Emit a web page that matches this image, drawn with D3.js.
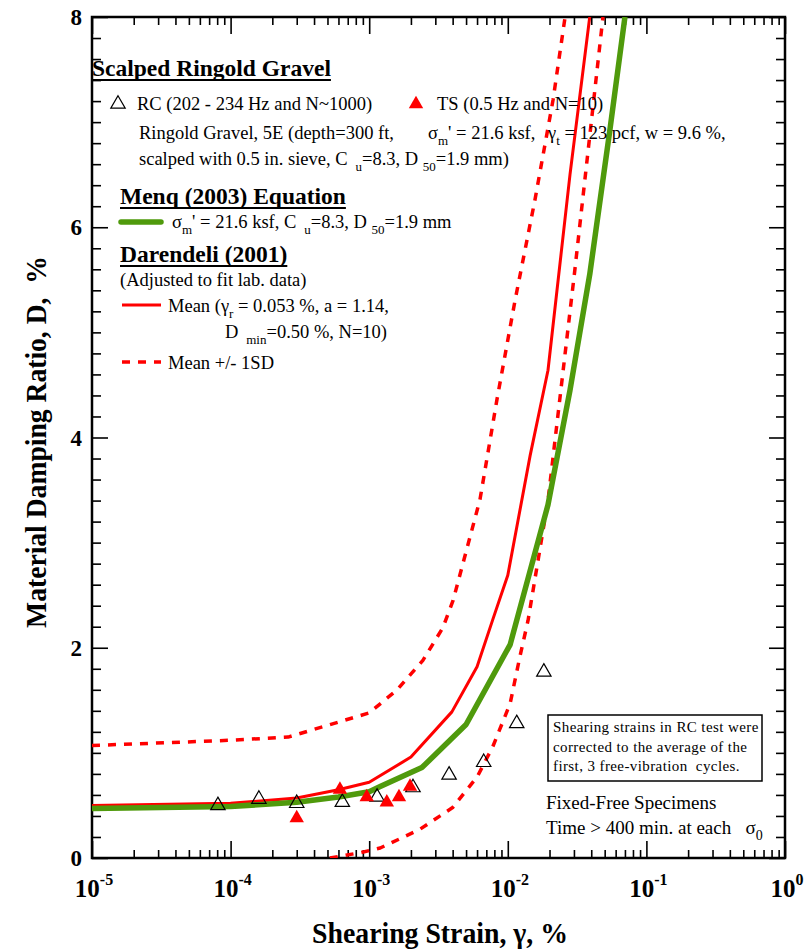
<!DOCTYPE html>
<html lang="en-US">
<head>
<meta charset="utf-8">
<title>Material Damping Ratio - Scalped Ringold Gravel</title>
<script src="https://cdn.jsdelivr.net/npm/d3@7"></script>
<style>
  body { margin: 0; background: #fff; }
  text { font-family: 'Liberation Serif', 'Times New Roman', serif; fill: #000; }
</style>
</head>
<body>
<svg id="chart"></svg>
<script>

    // ---- data ----
    const rcStrain = [8.1e-5, 1.6e-4, 3.0e-4, 6.4e-4, 1.14e-3, 2.07e-3, 3.77e-3, 6.7e-3, 1.16e-2, 1.82e-2];
    const rcDamping = [0.50, 0.56, 0.52, 0.53, 0.58, 0.67, 0.79, 0.91, 1.28, 1.77];

    const tsStrain = [3.0e-4, 6.15e-4, 9.6e-4, 1.34e-3, 1.64e-3, 1.97e-3];
    const tsDamping = [0.38, 0.65, 0.58, 0.53, 0.58, 0.68];

    const menqStrain = [1e-5, 1e-4, 3e-4, 6e-4, 1e-3, 1.2e-3, 2.4e-3, 5e-3, 1.04e-2, 1.95e-2, 2.81e-2, 3.9e-2, 5.46e-2, 7e-2];
    const menqDamping = [0.47, 0.49, 0.53, 0.58, 0.63, 0.68, 0.86, 1.27, 2.03, 3.36, 4.45, 5.55, 6.93, 8.0];

    const meanStrain = [1e-5, 1e-4, 3e-4, 6e-4, 1e-3, 2e-3, 3.95e-3, 6e-3, 7.8e-3, 1e-2, 1.45e-2, 1.95e-2, 2.81e-2, 3.9e-2];
    const meanDamping = [0.50, 0.52, 0.57, 0.65, 0.72, 0.96, 1.39, 1.82, 2.27, 2.69, 3.83, 4.64, 6.5, 8.0];

    const upperStrain = [1e-5, 1e-4, 2.6e-4, 1e-3, 1.59e-3, 2.44e-3, 3.4e-3, 4.03e-3, 6.3e-3, 8.35e-3, 1.13e-2, 1.57e-2, 2.12e-2, 2.59e-2];
    const upperDamping = [1.07, 1.12, 1.15, 1.38, 1.60, 1.88, 2.19, 2.45, 3.41, 4.36, 5.31, 6.26, 7.21, 8.0];

    const lowerStrain = [5.2e-4, 8.6e-4, 1.2e-3, 2.3e-3, 4.0e-3, 6.0e-3, 7.8e-3, 1.04e-2, 1.22e-2, 1.4e-2, 1.95e-2, 3.05e-2, 4.86e-2];
    const lowerDamping = [0.0, 0.05, 0.095, 0.27, 0.48, 0.77, 1.06, 1.47, 1.91, 2.26, 3.4, 5.6, 8.0];

    const xMajorTicks = [1e-5, 1e-4, 1e-3, 1e-2, 1e-1, 1];
    const xTickExponents = ['-5', '-4', '-3', '-2', '-1', '0'];
    const yMajorTicks = [0, 2, 4, 6, 8];

    const opt = {
        width: 811,
        height: 950,
        plot: { left: 92, top: 17, right: 785, bottom: 858 },
        red: '#ff0000',
        green: '#4f9a0c',
        legendSize: 18.5,
        headingSize: 23.5
    };

    const svg = d3.select('#chart')
        .attr('width', opt.width)
        .attr('height', opt.height);

    const xScale = d3.scaleLog()
        .domain([1e-5, 1])
        .range([opt.plot.left, opt.plot.right]);

    const yScale = d3.scaleLinear()
        .domain([0, 8])
        .range([opt.plot.bottom, opt.plot.top]);

    // minor ticks
    let xMinorTicks = [];
    for (let e = -5; e < 0; e++) {
        for (let m = 2; m <= 9; m++) xMinorTicks.push(m * Math.pow(10, e));
    }
    let yMinorTicks = d3.range(0, 8.001, 0.2).map(v => +v.toFixed(1)).filter(v => !yMajorTicks.includes(v));

    svg.append('defs').append('clipPath')
        .attr('id', 'plot-clip')
        .append('rect')
        .attr('x', opt.plot.left)
        .attr('y', opt.plot.top)
        .attr('width', opt.plot.right - opt.plot.left)
        .attr('height', opt.plot.bottom - opt.plot.top);

    // ---- axes (ticks inward on all four sides) ----
    function drawAxis(axisFn, scale, values, size, transform) {
        let g = svg.append('g')
            .attr('transform', transform)
            .call(axisFn(scale).tickValues(values).tickSize(size).tickFormat(''));
        g.select('.domain').remove();
        g.selectAll('line').attr('stroke', '#000').attr('stroke-width', 1.6);
        return g;
    }

    drawAxis(d3.axisBottom, xScale, xMajorTicks, -17, `translate(0,${opt.plot.bottom})`);
    drawAxis(d3.axisBottom, xScale, xMinorTicks, -8, `translate(0,${opt.plot.bottom})`);
    drawAxis(d3.axisTop, xScale, xMajorTicks, -17, `translate(0,${opt.plot.top})`);
    drawAxis(d3.axisTop, xScale, xMinorTicks, -8, `translate(0,${opt.plot.top})`);
    drawAxis(d3.axisLeft, yScale, yMajorTicks, -16, `translate(${opt.plot.left},0)`);
    drawAxis(d3.axisLeft, yScale, yMinorTicks, -9, `translate(${opt.plot.left},0)`);
    drawAxis(d3.axisRight, yScale, yMajorTicks, -16, `translate(${opt.plot.right},0)`);
    drawAxis(d3.axisRight, yScale, yMinorTicks, -9, `translate(${opt.plot.right},0)`);

    svg.append('rect')
        .attr('x', opt.plot.left)
        .attr('y', opt.plot.top)
        .attr('width', opt.plot.right - opt.plot.left)
        .attr('height', opt.plot.bottom - opt.plot.top)
        .attr('fill', 'none')
        .attr('stroke', '#000')
        .attr('stroke-width', 2.5);

    // tick labels
    let xLabels = svg.append('g')
        .selectAll('text')
        .data(xMajorTicks)
        .enter()
        .append('text')
        .attr('x', d => xScale(d) + 2)
        .attr('y', 897)
        .attr('text-anchor', 'middle')
        .style('font-size', '25px')
        .style('font-weight', 'bold');
    xLabels.append('tspan').text('10');
    xLabels.append('tspan')
        .attr('dy', -12)
        .style('font-size', '16px')
        .text((d, i) => xTickExponents[i]);

    svg.append('g')
        .selectAll('text')
        .data(yMajorTicks)
        .enter()
        .append('text')
        .attr('x', 82)
        .attr('y', d => yScale(d) + 8)
        .attr('text-anchor', 'end')
        .style('font-size', '23px')
        .style('font-weight', 'bold')
        .text(d => d);

    // axis titles, squeezed horizontally like the original typeface
    function title(text, x, y, rotate, size, targetWidth) {
        let t = svg.append('text')
            .attr('text-anchor', 'middle')
            .style('font-size', size + 'px')
            .style('font-weight', 'bold')
            .style('white-space', 'pre')
            .text(text);
        let k = targetWidth / t.node().getComputedTextLength();
        t.attr('transform', `translate(${x},${y}) rotate(${rotate}) scale(${k},1)`);
    }

    title('Shearing Strain, γ, %', 440, 943, 0, 30, 256);
    title('Material Damping Ratio, D,  %', 46, 442, -90, 29, 372);

    // ---- curves ----
    const line = d3.line()
        .x(d => xScale(d[0]))
        .y(d => yScale(d[1]));

    const curves = svg.append('g').attr('clip-path', 'url(#plot-clip)');

    function drawCurve(strain, damping, color, width, dash) {
        curves.append('path')
            .datum(strain.map((s, i) => [s, damping[i]]))
            .attr('d', line)
            .attr('fill', 'none')
            .attr('stroke', color)
            .attr('stroke-width', width)
            .attr('stroke-dasharray', dash || null)
            .attr('stroke-linejoin', 'round');
    }

    drawCurve(upperStrain, upperDamping, opt.red, 3.5, '8,8');
    drawCurve(lowerStrain, lowerDamping, opt.red, 3.5, '8,8');
    drawCurve(meanStrain, meanDamping, opt.red, 3);
    drawCurve(menqStrain, menqDamping, opt.green, 5.5);

    // ---- data points ----
    const tri = d3.symbol().type(d3.symbolTriangle).size(90);

    svg.append('g')
        .selectAll('path')
        .data(rcStrain.map((s, i) => [s, rcDamping[i]]))
        .enter()
        .append('path')
        .attr('d', tri)
        .attr('transform', d => `translate(${xScale(d[0])},${yScale(d[1])})`)
        .attr('fill', 'none')
        .attr('stroke', '#000')
        .attr('stroke-width', 1.2);

    svg.append('g')
        .selectAll('path')
        .data(tsStrain.map((s, i) => [s, tsDamping[i]]))
        .enter()
        .append('path')
        .attr('d', tri)
        .attr('transform', d => `translate(${xScale(d[0])},${yScale(d[1])})`)
        .attr('fill', opt.red);

    // ---- legend ----
    const legend = svg.append('g');

    function heading(x, y, text) {
        let t = legend.append('text')
            .attr('x', x)
            .attr('y', y)
            .style('font-size', opt.headingSize + 'px')
            .style('font-weight', 'bold')
            .text(text);
        let w = t.node().getComputedTextLength();
        legend.append('line')
            .attr('x1', x).attr('x2', x + w)
            .attr('y1', y + 4).attr('y2', y + 4)
            .attr('stroke', '#000')
            .attr('stroke-width', 2);
    }

    // parts: [text, 'sub'|'' ]
    function rich(x, y, parts, size) {
        size = size || opt.legendSize;
        let subSize = Math.round(size * 0.72);
        let t = legend.append('text')
            .attr('x', x)
            .attr('y', y)
            .style('font-size', size + 'px')
            .style('white-space', 'pre');
        let shifted = false;
        parts.forEach(p => {
            let s = t.append('tspan').text(p[0]);
            if (p[1] == 'sub') {
                s.style('font-size', subSize + 'px');
                if (!shifted) { s.attr('dy', 6); shifted = true; }
            } else if (shifted) {
                s.attr('dy', -6);
                shifted = false;
            }
        });
        return t;
    }

    heading(92, 76, 'Scalped Ringold Gravel');

    legend.append('path')
        .attr('d', tri)
        .attr('transform', 'translate(118,104)')
        .attr('fill', 'none')
        .attr('stroke', '#000')
        .attr('stroke-width', 1.2);
    rich(137, 110, [['RC (202 - 234 Hz and N~1000)', '']]);

    legend.append('path')
        .attr('d', tri)
        .attr('transform', 'translate(416,104)')
        .attr('fill', opt.red);
    rich(437, 110, [['TS (0.5 Hz and N=10)', '']]);

    rich(139, 139, [['Ringold Gravel, 5E (depth=300 ft,', '']]);
    rich(428, 139, [['σ', ''], ['m', 'sub'], ["' = 21.6 ksf,", '']]);
    rich(548, 139, [['γ', ''], ['t', 'sub'], [' = 123 pcf, w = 9.6 %,', '']]);
    rich(139, 165, [['scalped with 0.5 in. sieve, C ', ''], [' u', 'sub'], ['=8.3, D ', ''], ['50', 'sub'], ['=1.9 mm)', '']]);

    heading(120, 204, 'Menq (2003) Equation');

    legend.append('line')
        .attr('x1', 121).attr('x2', 161)
        .attr('y1', 222).attr('y2', 222)
        .attr('stroke', opt.green)
        .attr('stroke-width', 5.5)
        .attr('stroke-linecap', 'round');
    rich(172, 228, [['σ', ''], ['m', 'sub'], ["' = 21.6 ksf, C ", ''], [' u', 'sub'], ['=8.3, D ', ''], ['50', 'sub'], ['=1.9 mm', '']]);

    heading(120, 262, 'Darendeli (2001)');
    rich(120, 286, [['(Adjusted to fit lab. data)', '']]);

    legend.append('line')
        .attr('x1', 122).attr('x2', 161)
        .attr('y1', 305).attr('y2', 305)
        .attr('stroke', opt.red)
        .attr('stroke-width', 3);
    rich(168, 312, [['Mean (γ', ''], ['r', 'sub'], [' = 0.053 %, a = 1.14,', '']]);
    rich(225, 338, [['D ', ''], [' min', 'sub'], ['=0.50 %, N=10)', '']]);

    legend.append('line')
        .attr('x1', 122).attr('x2', 161)
        .attr('y1', 362).attr('y2', 362)
        .attr('stroke', opt.red)
        .attr('stroke-width', 3.5)
        .attr('stroke-dasharray', '8,8');
    rich(168, 369, [['Mean +/- 1SD', '']]);

    // ---- note box ----
    legend.append('rect')
        .attr('x', 548).attr('y', 715)
        .attr('width', 214).attr('height', 66)
        .attr('fill', '#fff')
        .attr('stroke', '#000')
        .attr('stroke-width', 1.5);
    const noteLines = ['Shearing strains in RC test were', 'corrected to the average of the', 'first, 3 free-vibration  cycles.'];
    legend.append('g')
        .selectAll('text')
        .data(noteLines)
        .enter()
        .append('text')
        .attr('x', 553)
        .attr('y', (d, i) => 732 + i * 19.5)
        .style('font-size', '15px')
        .style('letter-spacing', '0.4px')
        .style('white-space', 'pre')
        .text(d => d);

    rich(546, 809, [['Fixed-Free Specimens', '']], 19);
    rich(546, 834, [['Time > 400 min. at each   σ', ''], ['0', 'sub']], 19);

</script>
</body>
</html>
